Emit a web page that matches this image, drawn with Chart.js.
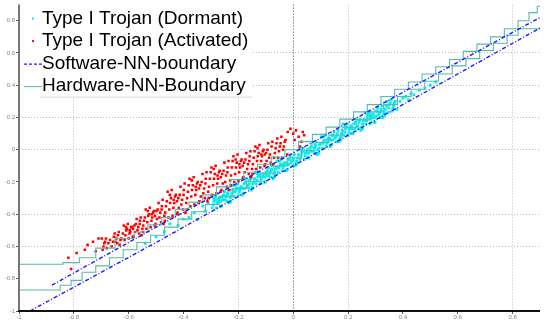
<!DOCTYPE html>
<html>
<head>
<meta charset="utf-8">
<script src="https://cdn.jsdelivr.net/npm/chart.js@4.4.0/dist/chart.umd.min.js"></script>
<style>
  html, body { margin: 0; padding: 0; background: #fff; }
  #wrap { width: 551px; height: 324px; }
</style>
</head>
<body>
<div id="wrap"><canvas id="chart"></canvas></div>
<script>
// tick labels (both axes run -1 .. 0.9)
const xTickLabels = ['-1', '-0.8', '-0.6', '-0.4', '-0.2', '0', '0.2', '0.4', '0.6', '0.8'];
const yTickLabels = ['-1', '-0.8', '-0.6', '-0.4', '-0.2', '0', '0.2', '0.4', '0.6', '0.8'];
// grid lines that are still visible in the scanned figure
const xGridShown = [-0.8, -0.2, 0, 0.2, 0.8];
const yGridShown = [-0.6, -0.4, 0, 0.2, 0.4, 0.6];

const seriesNames = ['Type I Trojan (Dormant)', 'Type I Trojan (Activated)', 'Software-NN-boundary', 'Hardware-NN-Boundary'];

// Type I Trojan (Dormant) - cyan cloud
const dormantX = [
  -0.54,-0.50,-0.47,-0.45,-0.42,-0.40,-0.38,-0.36,-0.35,-0.33,-0.32,-0.31,
  -0.298,-0.292,-0.286,-0.280,-0.274,-0.268,-0.262,-0.295,-0.289,-0.283,-0.277,-0.271,-0.265,-0.290,-0.276,-0.264,
  -0.257,-0.251,-0.245,-0.239,-0.233,-0.227,-0.221,-0.254,-0.248,-0.242,-0.236,-0.230,-0.224,-0.259,-0.240,-0.228,
  -0.218,-0.212,-0.206,-0.200,-0.194,-0.188,-0.182,-0.215,-0.209,-0.203,-0.197,-0.191,-0.185,-0.210,-0.196,-0.184,
  -0.177,-0.171,-0.165,-0.159,-0.153,-0.147,-0.141,-0.174,-0.168,-0.162,-0.156,-0.150,-0.144,-0.179,-0.160,-0.148,
  -0.138,-0.132,-0.126,-0.120,-0.114,-0.108,-0.102,-0.135,-0.129,-0.123,-0.117,-0.111,-0.105,-0.130,-0.116,-0.104,
  -0.097,-0.091,-0.085,-0.079,-0.073,-0.067,-0.061,-0.094,-0.088,-0.082,-0.076,-0.070,-0.064,-0.099,-0.080,-0.068,
  -0.058,-0.052,-0.046,-0.040,-0.034,-0.028,-0.022,-0.055,-0.049,-0.043,-0.037,-0.031,-0.025,-0.050,-0.036,-0.024,
  -0.017,-0.011,-0.005,0.001,0.007,0.013,0.019,-0.014,-0.008,-0.002,0.004,0.010,0.016,-0.019,0.000,0.012,
  0.022,0.028,0.034,0.040,0.046,0.052,0.058,0.025,0.031,0.037,0.043,0.049,0.055,0.030,0.044,0.056,
  0.063,0.069,0.075,0.081,0.087,0.093,0.099,0.066,0.072,0.078,0.084,0.090,0.096,0.061,0.080,0.092,
  0.102,0.108,0.114,0.120,0.126,0.132,0.138,0.105,0.111,0.117,0.123,0.129,0.135,0.110,0.124,0.136,
  0.143,0.149,0.155,0.161,0.167,0.173,0.179,0.146,0.152,0.158,0.164,0.170,0.176,0.141,0.160,0.172,
  0.182,0.188,0.194,0.200,0.206,0.212,0.218,0.185,0.191,0.197,0.203,0.209,0.215,0.190,0.204,0.216,
  0.223,0.229,0.235,0.241,0.247,0.253,0.259,0.226,0.232,0.238,0.244,0.250,0.256,0.221,0.240,0.252,
  0.262,0.268,0.274,0.280,0.286,0.292,0.298,0.265,0.271,0.277,0.283,0.289,0.295,0.270,0.284,0.296,
  0.303,0.309,0.315,0.321,0.327,0.333,0.339,0.306,0.312,0.318,0.324,0.330,0.336,0.301,0.320,0.332,
  0.342,0.348,0.354,0.360,0.366,0.372,0.378,0.345,0.351,0.357,0.363,0.369,
  0.39,0.40,0.41,0.42,0.43,0.44,0.46,0.48,0.50,0.52
];
const dormantY = [
  -0.58,-0.54,-0.51,-0.46,-0.47,-0.43,-0.42,-0.39,-0.43,-0.35,-0.38,-0.33,
  -0.29,-0.34,-0.31,-0.36,-0.32,-0.30,-0.35,-0.36,-0.32,-0.29,-0.33,-0.30,-0.35,-0.30,-0.31,-0.32,
  -0.31,-0.26,-0.29,-0.27,-0.33,-0.29,-0.25,-0.28,-0.31,-0.32,-0.25,-0.30,-0.27,-0.29,-0.28,-0.32,
  -0.22,-0.26,-0.24,-0.28,-0.25,-0.23,-0.27,-0.29,-0.25,-0.21,-0.26,-0.23,-0.28,-0.22,-0.24,-0.24,
  -0.24,-0.18,-0.22,-0.19,-0.25,-0.21,-0.18,-0.20,-0.23,-0.24,-0.18,-0.23,-0.20,-0.21,-0.21,-0.24,
  -0.14,-0.19,-0.16,-0.21,-0.17,-0.15,-0.20,-0.21,-0.17,-0.14,-0.19,-0.16,-0.20,-0.15,-0.17,-0.17,
  -0.16,-0.11,-0.14,-0.12,-0.18,-0.14,-0.11,-0.13,-0.16,-0.17,-0.10,-0.15,-0.12,-0.14,-0.13,-0.17,
  -0.07,-0.11,-0.09,-0.13,-0.10,-0.08,-0.12,-0.14,-0.10,-0.06,-0.11,-0.08,-0.13,-0.07,-0.09,-0.09,
  -0.09,-0.04,-0.07,-0.05,-0.10,-0.07,-0.03,-0.06,-0.08,-0.10,-0.03,-0.08,-0.05,-0.06,-0.06,-0.09,
  0.01,-0.04,-0.01,-0.06,-0.02,0.00,-0.05,-0.06,-0.02,0.01,-0.04,-0.01,-0.05,0.00,-0.02,-0.02,
  -0.01,0.04,0.01,0.03,-0.03,0.01,0.04,0.02,-0.01,-0.02,0.05,0.00,0.03,0.01,0.02,-0.02,
  0.08,0.04,0.06,0.02,0.05,0.07,0.03,0.01,0.05,0.09,0.04,0.07,0.02,0.08,0.06,0.06,
  0.06,0.11,0.08,0.10,0.05,0.08,0.12,0.09,0.07,0.05,0.12,0.07,0.10,0.09,0.09,0.06,
  0.16,0.11,0.14,0.09,0.13,0.15,0.10,0.09,0.13,0.16,0.11,0.14,0.10,0.15,0.13,0.13,
  0.13,0.19,0.15,0.18,0.12,0.16,0.19,0.17,0.14,0.13,0.19,0.14,0.18,0.16,0.17,0.13,
  0.23,0.18,0.21,0.16,0.20,0.22,0.17,0.16,0.20,0.23,0.19,0.22,0.17,0.22,0.21,0.20,
  0.21,0.26,0.23,0.25,0.20,0.23,0.27,0.24,0.22,0.20,0.27,0.22,0.25,0.24,0.24,0.21,
  0.30,0.26,0.29,0.24,0.27,0.30,0.25,0.23,0.28,0.31,0.26,0.29,
  0.30,0.32,0.33,0.31,0.35,0.34,0.37,0.38,0.40,0.42
];

// Type I Trojan (Activated) - red cloud
const activatedX = [
  -0.82,-0.79,-0.76,-0.75,-0.73,-0.72,-0.71,-0.81,
  -0.698,-0.692,-0.686,-0.680,-0.674,-0.668,-0.662,-0.695,-0.689,-0.683,
  -0.657,-0.651,-0.645,-0.639,-0.633,-0.627,-0.621,-0.654,-0.648,-0.642,-0.636,-0.630,
  -0.618,-0.612,-0.606,-0.600,-0.594,-0.588,-0.582,-0.615,-0.609,-0.603,-0.597,-0.591,-0.585,-0.610,-0.596,-0.584,
  -0.577,-0.571,-0.565,-0.559,-0.553,-0.547,-0.541,-0.574,-0.568,-0.562,-0.556,-0.550,-0.544,-0.579,-0.560,-0.548,
  -0.538,-0.532,-0.526,-0.520,-0.514,-0.508,-0.502,-0.535,-0.529,-0.523,-0.517,-0.511,-0.505,-0.530,-0.516,-0.504,
  -0.497,-0.491,-0.485,-0.479,-0.473,-0.467,-0.461,-0.494,-0.488,-0.482,-0.476,-0.470,-0.464,-0.499,-0.480,-0.468,
  -0.458,-0.452,-0.446,-0.440,-0.434,-0.428,-0.422,-0.455,-0.449,-0.443,-0.437,-0.431,-0.425,-0.450,-0.436,-0.424,
  -0.417,-0.411,-0.405,-0.399,-0.393,-0.387,-0.381,-0.414,-0.408,-0.402,-0.396,-0.390,-0.384,-0.419,-0.400,-0.388,
  -0.378,-0.372,-0.366,-0.360,-0.354,-0.348,-0.342,-0.375,-0.369,-0.363,-0.357,-0.351,-0.345,-0.370,-0.356,-0.344,
  -0.337,-0.331,-0.325,-0.319,-0.313,-0.307,-0.301,-0.334,-0.328,-0.322,-0.316,-0.310,-0.304,-0.339,-0.320,-0.308,
  -0.298,-0.292,-0.286,-0.280,-0.274,-0.268,-0.262,-0.295,-0.289,-0.283,-0.277,-0.271,-0.265,-0.290,-0.276,-0.264,
  -0.257,-0.251,-0.245,-0.239,-0.233,-0.227,-0.221,-0.254,-0.248,-0.242,-0.236,-0.230,-0.224,-0.259,-0.240,-0.228,
  -0.218,-0.212,-0.206,-0.200,-0.194,-0.188,-0.182,-0.215,-0.209,-0.203,-0.197,-0.191,-0.185,-0.210,-0.196,-0.184,
  -0.177,-0.171,-0.165,-0.159,-0.153,-0.147,-0.141,-0.174,-0.168,-0.162,-0.156,-0.150,-0.144,-0.179,-0.160,-0.148,
  -0.138,-0.132,-0.126,-0.120,-0.114,-0.108,-0.102,-0.135,-0.129,-0.123,-0.117,-0.111,-0.105,-0.130,-0.116,-0.104,
  -0.097,-0.091,-0.085,-0.079,-0.073,-0.067,-0.061,-0.094,-0.088,-0.082,-0.076,-0.070,-0.064,-0.099,
  -0.058,-0.052,-0.046,-0.040,-0.034,-0.028,-0.022,-0.055,-0.049,-0.043,-0.037,-0.031,
  0.000,0.010,0.020,0.030,0.035,0.005,-0.010,0.040,0.025,-0.020
];
const activatedY = [
  -0.67,-0.64,-0.62,-0.59,-0.57,-0.63,-0.55,-0.74,
  -0.55,-0.60,-0.57,-0.61,-0.58,-0.56,-0.60,-0.62,-0.58,-0.55,
  -0.57,-0.52,-0.55,-0.53,-0.59,-0.55,-0.52,-0.54,-0.57,-0.58,-0.51,-0.56,
  -0.47,-0.53,-0.49,-0.55,-0.51,-0.48,-0.54,-0.56,-0.50,-0.46,-0.52,-0.48,-0.54,-0.48,-0.50,-0.49,
  -0.51,-0.43,-0.48,-0.44,-0.53,-0.47,-0.42,-0.46,-0.50,-0.52,-0.42,-0.49,-0.44,-0.47,-0.46,-0.51,
  -0.37,-0.45,-0.40,-0.48,-0.42,-0.38,-0.46,-0.49,-0.41,-0.36,-0.44,-0.39,-0.47,-0.38,-0.40,-0.41,
  -0.43,-0.33,-0.39,-0.35,-0.46,-0.39,-0.32,-0.37,-0.42,-0.45,-0.31,-0.41,-0.35,-0.38,-0.37,-0.44,
  -0.26,-0.37,-0.30,-0.41,-0.33,-0.28,-0.39,-0.42,-0.33,-0.25,-0.36,-0.29,-0.40,-0.28,-0.31,-0.32,
  -0.36,-0.23,-0.31,-0.25,-0.39,-0.30,-0.22,-0.28,-0.34,-0.37,-0.21,-0.33,-0.26,-0.30,-0.28,-0.37,
  -0.18,-0.29,-0.22,-0.34,-0.25,-0.20,-0.32,-0.35,-0.25,-0.17,-0.28,-0.21,-0.33,-0.19,-0.23,-0.24,
  -0.29,-0.15,-0.24,-0.18,-0.32,-0.23,-0.14,-0.20,-0.27,-0.30,-0.14,-0.26,-0.18,-0.22,-0.21,-0.30,
  -0.11,-0.22,-0.15,-0.27,-0.18,-0.13,-0.25,-0.28,-0.18,-0.10,-0.21,-0.14,-0.26,-0.12,-0.16,-0.17,
  -0.21,-0.08,-0.16,-0.11,-0.25,-0.16,-0.07,-0.13,-0.20,-0.23,-0.07,-0.19,-0.11,-0.15,-0.14,-0.22,
  -0.04,-0.15,-0.08,-0.19,-0.11,-0.06,-0.17,-0.20,-0.11,-0.03,-0.14,-0.07,-0.18,-0.06,-0.09,-0.10,
  -0.14,-0.02,-0.09,-0.04,-0.17,-0.09,-0.01,-0.06,-0.12,-0.15,-0.01,-0.12,-0.05,-0.08,-0.07,-0.15,
  0.02,-0.07,-0.02,-0.11,-0.04,0.00,-0.09,-0.12,-0.04,0.03,-0.07,-0.01,-0.10,0.01,-0.03,-0.03,
  -0.07,0.04,-0.03,0.02,-0.09,-0.02,0.04,0.00,-0.05,-0.08,0.05,-0.05,0.01,-0.02,
  0.07,-0.01,0.04,-0.05,0.02,0.06,-0.03,-0.05,0.02,0.08,0.00,0.05,
  0.10,0.12,0.08,0.05,0.11,0.06,0.13,0.09,0.02,0.11
];

// Software-NN-boundary (upper and lower)
const swUpperX = [-0.88, -0.5, 0, 0.5, 0.9];
const swUpperY = [-0.84, -0.48, -0.02, 0.45, 0.82];
const swLowerX = [-0.96, -0.5, 0, 0.5, 0.9];
const swLowerY = [-1, -0.575, -0.10, 0.375, 0.755];

// Hardware-NN-Boundary (quantised, stepped)
const hwUpperX = [-1,-0.84,-0.78,-0.72,-0.65,-0.58,-0.53,-0.48,-0.43,-0.38,-0.33,-0.28,-0.23,-0.18,-0.13,-0.08,-0.03,0.02,0.07,0.12,0.17,0.22,0.27,0.32,0.37,0.42,0.47,0.52,0.57,0.62,0.67,0.72,0.77,0.82,0.86,0.89,0.9];
const hwUpperY = [-0.73,-0.71,-0.70,-0.67,-0.61,-0.55,-0.51,-0.465,-0.42,-0.37,-0.325,-0.28,-0.23,-0.185,-0.14,-0.09,-0.045,0.00,0.05,0.095,0.14,0.19,0.235,0.28,0.33,0.375,0.42,0.47,0.515,0.56,0.61,0.655,0.70,0.75,0.80,0.85,0.89];
const hwLowerX = [-1,-0.85,-0.81,-0.77,-0.72,-0.67,-0.62,-0.57,-0.52,-0.47,-0.42,-0.37,-0.32,-0.27,-0.22,-0.17,-0.12,-0.07,-0.02,0.03,0.08,0.13,0.18,0.23,0.28,0.33,0.38,0.43,0.48,0.53,0.58,0.63,0.68,0.73,0.78,0.82,0.86,0.9];
const hwLowerY = [-0.895,-0.87,-0.84,-0.81,-0.76,-0.72,-0.67,-0.62,-0.575,-0.53,-0.48,-0.43,-0.385,-0.34,-0.29,-0.24,-0.195,-0.145,-0.10,-0.05,-0.005,0.045,0.09,0.14,0.185,0.235,0.28,0.33,0.375,0.425,0.47,0.52,0.565,0.615,0.66,0.71,0.75,0.75];

const CYAN = '#00eeee';
const RED = '#ff0000';
const BLUE = '#1a1aff';
const TEAL = '#55bbb0';

const zip = (xs, ys) => xs.map((x, i) => ({ x, y: ys[i] }));
const near = (v, list) => list.some(t => Math.abs(t - v) < 1e-6);

function lineSet(label, xs, ys, color, dash, stepped) {
  return {
    type: 'line', label, data: zip(xs, ys), order: 0,
    borderColor: color, borderWidth: stepped ? 1.1 : 1.4, borderDash: dash,
    stepped: stepped ? 'after' : false, pointRadius: 0, fill: false, tension: 0
  };
}

// solid axis lines (the scale border is hidden because its dash is used by the grid)
const axisLines = {
  id: 'axisLines',
  afterDatasetsDraw(chart) {
    const { ctx, chartArea: a } = chart;
    ctx.save();
    ctx.lineWidth = 2;
    ctx.strokeStyle = '#777';
    ctx.beginPath(); ctx.moveTo(a.left, a.top); ctx.lineTo(a.left, a.bottom + 1); ctx.stroke();
    ctx.strokeStyle = '#111';
    ctx.beginPath(); ctx.moveTo(a.left - 1, a.bottom); ctx.lineTo(a.right, a.bottom); ctx.stroke();
    ctx.restore();
  }
};

// legend drawn inside the plot area, top-left, like the MATLAB figure
const insideLegend = {
  id: 'insideLegend',
  afterDraw(chart) {
    const { ctx, chartArea } = chart;
    const left = chartArea.left + 3, top = chartArea.top;
    ctx.save();
    ctx.fillStyle = '#fff';
    ctx.fillRect(left, top, 230, 92);
    ctx.strokeStyle = '#d6d6d6';
    ctx.lineWidth = 1;
    ctx.beginPath();
    ctx.moveTo(left + 18, top + 92.5);
    ctx.lineTo(left + 230, top + 92.5);
    ctx.stroke();
    ctx.font = '19px "Liberation Sans", Arial, sans-serif';
    ctx.textBaseline = 'middle';
    seriesNames.forEach((name, i) => {
      const cy = top + 14 + i * 22.5;
      if (i === 0 || i === 1) {
        ctx.fillStyle = i === 0 ? CYAN : RED;
        ctx.fillRect(left + 10, cy - 1, 2, 2);
      } else {
        ctx.strokeStyle = i === 2 ? BLUE : TEAL;
        ctx.lineWidth = i === 2 ? 1.2 : 1;
        ctx.setLineDash(i === 2 ? [3, 2] : []);
        ctx.beginPath();
        ctx.moveTo(left + 2, cy + 0.5);
        ctx.lineTo(left + 20, cy + 0.5);
        ctx.stroke();
        ctx.setLineDash([]);
      }
      ctx.fillStyle = '#000';
      ctx.fillText(name, left + 20, cy);
    });
    ctx.restore();
  }
};

new Chart(document.getElementById('chart'), {
  type: 'scatter',
  data: {
    datasets: [
      lineSet(seriesNames[2], swUpperX, swUpperY, BLUE, [4, 2, 1, 2], false),
      lineSet(seriesNames[2], swLowerX, swLowerY, BLUE, [4, 2, 1, 2], false),
      lineSet(seriesNames[3], hwUpperX, hwUpperY, TEAL, [], true),
      lineSet(seriesNames[3], hwLowerX, hwLowerY, TEAL, [], true),
      { label: seriesNames[1], data: zip(activatedX, activatedY), order: 1,
        pointStyle: 'rect', pointRadius: 1.8, backgroundColor: RED, borderWidth: 0 },
      { label: seriesNames[0], data: zip(dormantX, dormantY), order: 2,
        pointStyle: 'rect', pointRadius: 2, backgroundColor: CYAN, borderWidth: 0 }
    ]
  },
  options: {
    responsive: true, maintainAspectRatio: false, animation: false,
    layout: { padding: { top: 3, right: 11, left: 0, bottom: 0 } },
    plugins: { legend: { display: false }, tooltip: { enabled: false } },
    scales: {
      x: {
        type: 'linear', min: -1, max: 0.9,
        afterFit: s => { s.height = 13; },
        border: { display: false, dash: [1, 2] },
        grid: {
          color: c => near(c.tick.value, xGridShown) ? (c.tick.value === 0 ? '#444' : '#bbbbbb') : 'rgba(0,0,0,0)',
          tickLength: 3, tickColor: '#555', lineWidth: 1
        },
        ticks: {
          stepSize: 0.2, includeBounds: false, autoSkip: false, maxRotation: 0, padding: 0,
          color: '#888', font: { size: 6, family: 'Liberation Sans' },
          callback: v => xTickLabels[Math.round((v + 1) / 0.2)]
        }
      },
      y: {
        type: 'linear', min: -1, max: 0.9,
        afterFit: s => { s.width = 19; },
        border: { display: false, dash: [1, 2] },
        grid: {
          color: c => near(c.tick.value, yGridShown) ? '#bbbbbb' : 'rgba(0,0,0,0)',
          tickLength: 3, tickColor: '#555', lineWidth: 1
        },
        ticks: {
          stepSize: 0.2, includeBounds: false, autoSkip: false, padding: 1,
          color: '#888', font: { size: 6, family: 'Liberation Sans' },
          callback: v => yTickLabels[Math.round((v + 1) / 0.2)]
        }
      }
    }
  },
  plugins: [axisLines, insideLegend]
});
</script>
</body>
</html>
